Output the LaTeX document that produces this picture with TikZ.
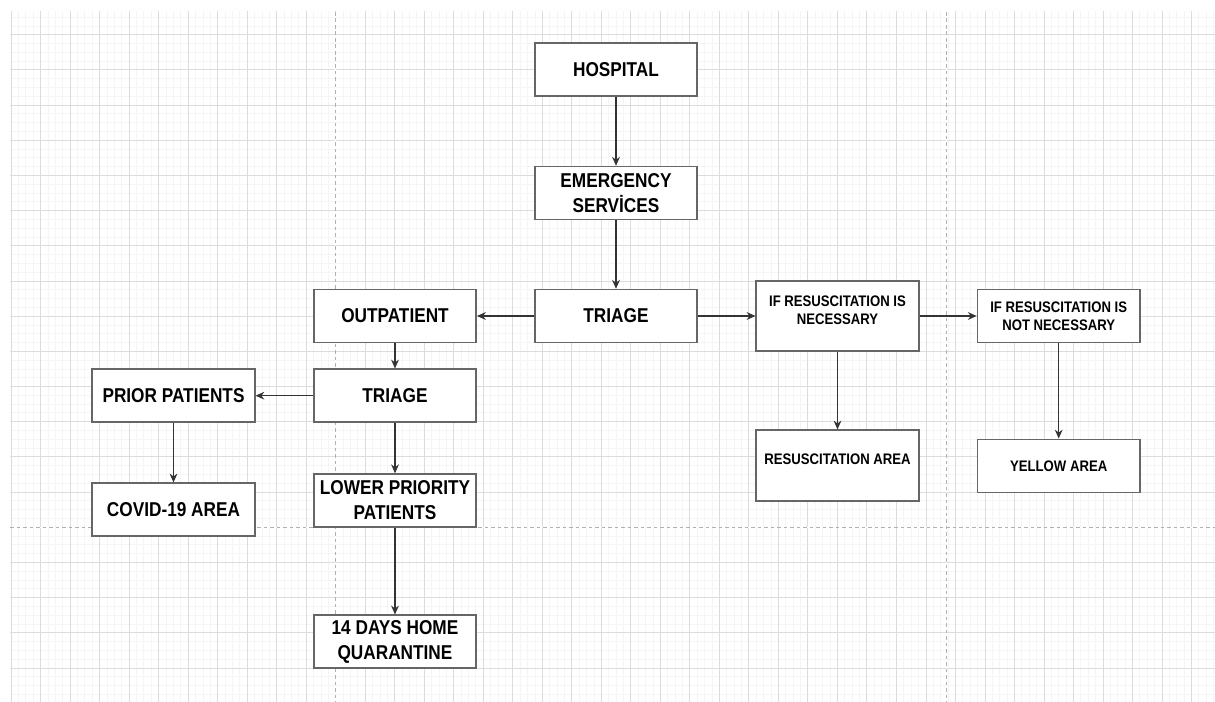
\documentclass[tikz,border=0pt]{standalone}
\usepackage{fontspec}
\setmainfont{Liberation Sans}[FakeStretch=0.86]
\usepackage{tikz}
\usetikzlibrary{arrows.meta}
\definecolor{GridMajor}{HTML}{DCDCDC}
\definecolor{GridMinor}{HTML}{F5F5F5}
\definecolor{Dash}{HTML}{B0B0B0}
\definecolor{Edge}{HTML}{666666}
\definecolor{Ink}{HTML}{333333}
\newcommand\lift[2]{\raisebox{#1}[\height][\depth]{#2}}
\tikzset{
  box/.style={draw=Edge,line width=.9pt,fill=white,minimum width=3.25cm,minimum height=1.06cm,
    inner sep=2pt,align=center,font=\fontsize{11.4}{14.2}\selectfont\bfseries},
  smallbox/.style={box,font=\fontsize{8.7}{10.3}\selectfont\bfseries},
  arr/.style={-{Stealth[length=5pt,width=4.4pt]},Ink,line width=.6pt},
}
\begin{document}
\begin{tikzpicture}[x=.02cm,y=-.02cm]
  \fill[white](0,0)rectangle(1215,702);
  \useasboundingbox(0,0)rectangle(1215,702);
  % grid paper, snapped to whole pixels
  \begin{scope}
    \clip(10,12)rectangle(1215,702);
    \foreach\i in{0,...,163}\draw[GridMinor,line width=.57pt]({round(10.7+7.3775*\i)+.5},0)--++(0,702);
    \foreach\j in{0,...,80}\draw[GridMinor,line width=.57pt](0,{round(-.88+8.795*\j)+.5})--++(1215,0);
    \foreach\i in{0,...,40}\draw[GridMajor,line width=.85pt]({round(10.7+29.51*\i)+.5},0)--++(0,702);
    \foreach\j in{0,...,20}\draw[GridMajor,line width=.85pt](0,{round(-.88+35.18*\j)+.5})--++(1215,0);
  \end{scope}
  \draw[white,line width=1pt](335.5,12)--(335.5,702)(946.5,12)--(946.5,702)(10,527.5)--(1215,527.5);
  \draw[Dash,line width=.6pt,dash pattern=on 2pt off 1.7pt](335.5,12)--(335.5,702)(946.5,12)--(946.5,702)(10,527.5)--(1215,527.5);
  % boxes
  \node[box](hosp)at(616,69.7){HOSPITAL};
  \node[box](emerg)at(616,193){EMERGENCY\\SERVİCES};
  \node[box](triage)at(616,316){TRIAGE};
  \node[box](outpat)at(395,316){OUTPATIENT};
  \node[box](triagetwo)at(395,395.7){TRIAGE};
  \node[box](prior)at(173.5,395.7){PRIOR PATIENTS};
  \node[box](covid)at(173.5,509.7){COVID-19 AREA};
  \node[box](lower)at(395,500.5){LOWER PRIORITY\\PATIENTS};
  \node[box](quar)at(395,641.7){14 DAYS HOME\\QUARANTINE};
  \node[smallbox,minimum height=1.41cm](nec)at(837.5,316){\lift{3.1pt}{IF RESUSCITATION IS}\\\lift{3.1pt}{NECESSARY}};
  \node[smallbox,minimum height=1.42cm](resarea)at(837.5,465.7){\lift{3.6pt}{RESUSCITATION AREA}};
  \node[smallbox](notnec)at(1058.7,316){IF RESUSCITATION IS\\NOT NECESSARY};
  \node[smallbox](yellow)at(1058.7,465.8){YELLOW AREA};
  % arrows
  \draw[arr](hosp)--(emerg);
  \draw[arr](emerg)--(triage);
  \draw[arr](triage)--(outpat);
  \draw[arr](triage)--(nec);
  \draw[arr](nec)--(notnec);
  \draw[arr](outpat)--(triagetwo);
  \draw[arr](triagetwo)--(prior);
  \draw[arr](triagetwo)--(lower);
  \draw[arr](prior)--(covid);
  \draw[arr](lower)--(quar);
  \draw[arr](nec)--(resarea);
  \draw[arr](notnec)--(yellow);
\end{tikzpicture}
\end{document}
